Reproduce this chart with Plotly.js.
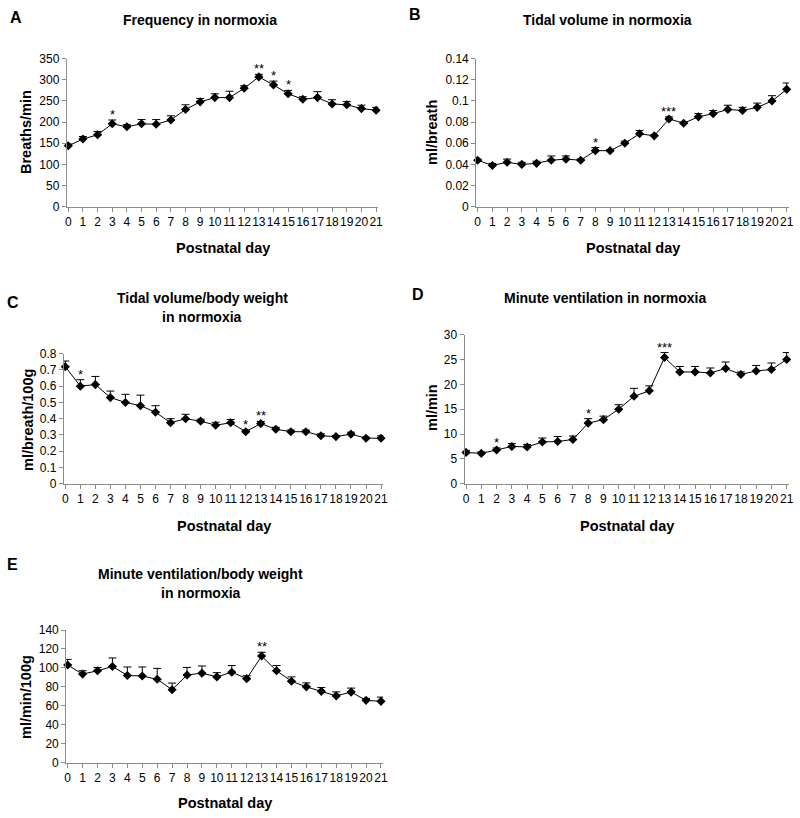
<!DOCTYPE html>
<html>
<head>
<meta charset="utf-8">
<script src="https://cdn.plot.ly/plotly-3.0.1.min.js"></script>
<style>html,body{margin:0;padding:0;background:#fff}#chart{width:800px;height:818px}</style>
</head>
<body>
<div id="chart"></div>
<script>
const days = [0,1,2,3,4,5,6,7,8,9,10,11,12,13,14,15,16,17,18,19,20,21];

const freqMean = [144,160,170,196,189,196,195,205,230,248,258,258,280,307,288,267,254,258,243,241,232,228];
const freqErr  = [4,6,8,9,5,10,11,10,11,8,9,15,6,6,9,8,6,14,10,8,8,7];
const freqStars = ["","","","*","","","","","","","","","","**","*","*","","","","","",""];

const tvMean = [0.044,0.039,0.042,0.040,0.041,0.044,0.045,0.044,0.053,0.053,0.060,0.069,0.067,0.083,0.079,0.085,0.088,0.092,0.091,0.094,0.100,0.111];
const tvErr  = [0.001,0.002,0.003,0.002,0.002,0.004,0.003,0.001,0.003,0.001,0.002,0.003,0.001,0.002,0.001,0.003,0.003,0.004,0.003,0.004,0.005,0.006];
const tvStars = ["","","","","","","","","*","","","","","***","","","","","","","",""];

const tvbwMean = [0.72,0.60,0.61,0.53,0.50,0.48,0.44,0.375,0.40,0.385,0.36,0.375,0.32,0.37,0.335,0.32,0.32,0.295,0.29,0.305,0.28,0.28];
const tvbwErr  = [0.035,0.04,0.05,0.04,0.05,0.065,0.04,0.025,0.027,0.012,0.018,0.02,0.01,0.013,0.012,0.01,0.01,0.012,0.006,0.012,0.006,0.015];
const tvbwStars = ["","*","","","","","","","","","","","*","**","","","","","","","",""];

const mvMean = [6.3,6.1,6.8,7.5,7.4,8.4,8.5,8.9,12.2,12.9,15.0,17.6,18.7,25.4,22.5,22.5,22.3,23.2,22.0,22.7,23.0,25.0];
const mvErr  = [0.4,0.3,0.4,0.6,0.5,0.8,1.0,0.7,0.9,0.7,0.9,1.6,1.0,1.0,1.1,1.1,1.0,1.3,0.5,1.1,1.3,1.4];
const mvStars = ["","","*","","","","","","*","","","","","***","","","","","","","",""];

const mvbwMean = [103,93.5,97,101.5,92,91.5,88,77,92.5,94.5,90.5,95.5,88.7,112.5,97,86,80,75.3,70.5,74.5,65.8,64.7];
const mvbwErr  = [6,3.5,3.5,9,9,9.5,11.5,7,8,7.5,4.5,7,3,4,5.5,4.5,4.2,4,4.2,4.2,2,4.5];
const mvbwStars = ["","","","","","","","","","","","","","**","","","","","","","",""];

const panels = [
  {mean: freqMean, err: freqErr, stars: freqStars, ax: "", range:[0,350], dtick:50,
   dom:[66.8,378.3,58.7,206.7], ytitle:"Breaths/min", ytx:26, yty:132, xtty:248,
   title:["Frequency in normoxia"], tx:200, ty:[20.5], letter:"A", lx:16, ly:17},
  {mean: tvMean, err: tvErr, stars: tvStars, ax: "2", range:[0,0.14], dtick:0.02,
   dom:[476.2,788.9,58.7,206.7], ytitle:"ml/breath", ytx:432, yty:133, xtty:248,
   title:["Tidal volume in normoxia"], tx:607, ty:[20.5], letter:"B", lx:415, ly:15},
  {mean: tvbwMean, err: tvbwErr, stars: tvbwStars, ax: "3", range:[0,0.8], dtick:0.1,
   dom:[63.8,383.3,353.7,483.7], ytitle:"ml/breath/100g", ytx:28, yty:420, xtty:526,
   title:["Tidal volume/body weight","in normoxia"], tx:202, ty:[298,317], letter:"C", lx:13, ly:302},
  {mean: mvMean, err: mvErr, stars: mvStars, ax: "4", range:[0,30], dtick:5,
   dom:[464.5,789,334.7,483.7], ytitle:"ml/min", ytx:432, yty:408, xtty:526,
   title:["Minute ventilation in normoxia"], tx:605, ty:[297.5], letter:"D", lx:418, ly:294},
  {mean: mvbwMean, err: mvbwErr, stars: mvbwStars, ax: "5", range:[0,140], dtick:20,
   dom:[66.2,383.2,630,762.7], ytitle:"ml/min/100g", ytx:26, yty:697, xtty:803,
   title:["Minute ventilation/body weight","in normoxia"], tx:201, ty:[574,592.5], letter:"E", lx:12, ly:564}
];

const W = 800, H = 818;
const FONT = "Liberation Sans, Arial, sans-serif";
const data = [];
const annotations = [];
const layout = {
  width: W, height: H,
  margin: {l:0, r:0, t:0, b:0},
  paper_bgcolor: "#fff", plot_bgcolor: "rgba(0,0,0,0)",
  showlegend: false,
  font: {family: FONT, color: "#000", size: 12}
};

panels.forEach(p => {
  const xa = "x" + p.ax, ya = "y" + p.ax;
  data.push({
    type: "scatter", mode: "lines+markers",
    x: days, y: p.mean, xaxis: xa, yaxis: ya,
    line: {color: "#000", width: 1},
    marker: {symbol: "diamond", size: 7, color: "#000"},
    error_y: {type: "data", symmetric: false, array: p.err, arrayminus: days.map(() => 0),
              color: "#000", thickness: 1, width: 4},
    cliponaxis: false, hoverinfo: "skip"
  });
  const axCommon = {showgrid: false, zeroline: false, showline: true, linecolor: "#8c8c8c",
    linewidth: 1, ticks: "outside", tickcolor: "#8c8c8c", ticklen: 4,
    tickfont: {family: FONT, size: 12, color: "#000"}, fixedrange: true};
  layout["xaxis" + p.ax] = Object.assign({}, axCommon, {
    domain: [p.dom[0] / W, p.dom[1] / W], range: [-0.1, 21.15],
    tickmode: "array", tickvals: days, ticktext: days.map(String), tickangle: 0,
    anchor: ya
  });
  layout["yaxis" + p.ax] = Object.assign({}, axCommon, {
    domain: [1 - p.dom[3] / H, 1 - p.dom[2] / H], range: p.range,
    tick0: 0, dtick: p.dtick, anchor: xa
  });
  annotations.push({xref: "paper", yref: "paper", x: p.ytx / W, y: 1 - p.yty / H,
    text: "<b>" + p.ytitle + "</b>", showarrow: false, textangle: -90,
    xanchor: "center", yanchor: "middle", font: {family: FONT, size: 14.5, color: "#000"}});
  annotations.push({xref: "paper", yref: "paper", x: (p.dom[0] + p.dom[1]) / 2 / W, y: 1 - p.xtty / H,
    text: "<b>Postnatal day</b>", showarrow: false,
    xanchor: "center", yanchor: "middle", font: {family: FONT, size: 14.5, color: "#000"}});
  p.title.forEach((t, i) => {
    annotations.push({xref: "paper", yref: "paper", x: p.tx / W, y: 1 - p.ty[i] / H,
      text: "<b>" + t + "</b>", showarrow: false,
      xanchor: "center", yanchor: "middle", font: {family: FONT, size: 14, color: "#000"}});
  });
  annotations.push({xref: "paper", yref: "paper", x: p.lx / W, y: 1 - p.ly / H,
    text: "<b>" + p.letter + "</b>", showarrow: false,
    xanchor: "center", yanchor: "middle", font: {family: FONT, size: 16, color: "#000"}});
  p.stars.forEach((s, i) => {
    if (!s) return;
    annotations.push({xref: xa, yref: ya, x: days[i], y: p.mean[i] + p.err[i],
      text: s, showarrow: false, xanchor: "center", yanchor: "bottom", yshift: -4,
      font: {family: FONT, size: 13, color: "#000"}});
  });
});
layout.annotations = annotations;

Plotly.newPlot("chart", data, layout, {displayModeBar: false, staticPlot: true});
</script>
</body>
</html>
